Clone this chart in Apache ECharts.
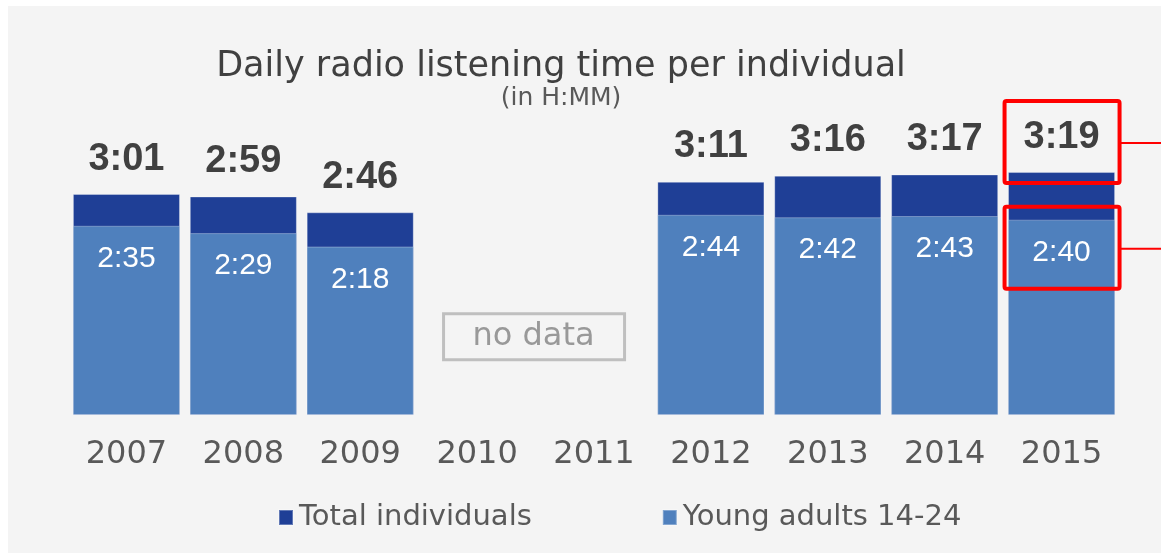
<!DOCTYPE html>
<html><head><meta charset="utf-8">
<script src="https://cdn.jsdelivr.net/npm/echarts@6/dist/echarts.min.js"></script>
<style>html,body{margin:0;padding:0;background:#fff}#c{width:1161px;height:553px}</style>
</head><body><div id="c"></div>
<script>
const years = ['2007','2008','2009','2010','2011','2012','2013','2014','2015'];
// minutes
const totalIndividuals = [181, 179, 166, null, null, 191, 196, 197, 199];
const youngAdults = [155, 149, 138, null, null, 164, 162, 163, 160];
const seriesNames = ['Total individuals', 'Young adults 14-24'];
const noDataYears = ['2010', '2011'];
const highlightYear = '2015';

function hmm(v) {
  const m = typeof v === 'object' ? v.value : v;
  if (m == null) return '';
  const mm = m % 60;
  return Math.floor(m / 60) + ':' + (mm < 10 ? '0' : '') + mm;
}

const chart = echarts.init(document.getElementById('c'));
const option = {
  backgroundColor: '#ffffff',
  animation: false,
  title: {
    text: 'Daily radio listening time per individual',
    subtext: '(in H:MM)',
    left: 556, textAlign: 'center', top: 44, itemGap: 2,
    textStyle: { fontFamily: 'DejaVu Sans', fontSize: 35, fontWeight: 'normal', color: '#404040' },
    subtextStyle: { fontFamily: 'DejaVu Sans', fontSize: 25, color: '#595959' }
  },
  legend: {
    left: 273, top: 498, itemWidth: 14, itemHeight: 15, itemGap: 130,
    icon: 'rect',
    textStyle: { fontFamily: 'DejaVu Sans', fontSize: 29, color: '#595959', padding: [0,0,0,1] },
    data: seriesNames
  },
  grid: { left: 68, right: 41, top: 122, bottom: 138 },
  xAxis: {
    type: 'category', data: years,
    axisLine: { show: false }, axisTick: { show: false },
    axisLabel: { fontFamily: 'DejaVu Sans', fontSize: 32, color: '#595959', margin: 24 }
  },
  yAxis: { type: 'value', min: 0, max: 240, show: false, splitLine: { show: false } },
  series: [
    {
      name: seriesNames[0], type: 'bar', data: totalIndividuals,
      barCategoryGap: '8.4%', barGap: '-100%',
      itemStyle: { color: '#1F3F96', borderColor: 'rgba(255,255,255,0.3)', borderWidth: 1 },
      label: { show: true, position: 'top', distance: 16, formatter: p => hmm(p.value),
        fontFamily: 'Liberation Sans', fontWeight: 'bold', fontSize: 38, color: '#404040' }
    },
    {
      name: seriesNames[1], type: 'bar', data: youngAdults,
      barCategoryGap: '8.4%', barGap: '-100%',
      itemStyle: { color: '#4F80BD', borderColor: 'rgba(255,255,255,0.3)', borderWidth: 1 },
      label: { show: true, position: 'insideTop', distance: 18, formatter: p => hmm(p.value),
        fontFamily: 'Liberation Sans', fontSize: 30, color: '#ffffff' }
    }
  ]
};
chart.setOption(option);

function px(cat, val) { return chart.convertToPixel({ gridIndex: 0 }, [cat, val]); }
const i15 = years.indexOf(highlightYear);
const p0 = px(noDataYears[0], 0), p1 = px(noDataYears[1], 0);
const ndY = px(noDataYears[0], 65)[1];
const cx = (p0[0] + p1[0]) / 2;
const hx = px(highlightYear, 0)[0];
const tTop = px(highlightYear, totalIndividuals[i15])[1];
const yTop = px(highlightYear, youngAdults[i15])[1];
const W = chart.getWidth();

chart.setOption({
  graphic: [
    { type: 'rect', z: -10, silent: true, shape: { x: 8, y: 6, width: W - 8, height: 547 }, style: { fill: '#f4f4f4' } },
    { type: 'rect', z: 10, shape: { x: cx - 92, y: ndY - 22, width: 181, height: 46 },
      style: { fill: 'none', stroke: '#bfbfbf', lineWidth: 3 } },
    { type: 'text', z: 10, x: cx - 2, y: ndY + 1, style: { text: 'no data', fill: '#999999', fontFamily: 'DejaVu Sans', fontSize: 32, align: 'center', verticalAlign: 'middle' } },
    { type: 'rect', z: 20, shape: { x: hx - 57, y: tTop - 71, width: 115, height: 82, r: 2 },
      style: { fill: 'none', stroke: '#ff0000', lineWidth: 4 } },
    { type: 'line', z: 20, shape: { x1: hx + 58, y1: tTop - 29, x2: W, y2: tTop - 29 }, style: { stroke: '#ff0000', lineWidth: 2 } },
    { type: 'rect', z: 20, shape: { x: hx - 57, y: yTop - 13, width: 115, height: 82, r: 2 },
      style: { fill: 'none', stroke: '#ff0000', lineWidth: 4 } },
    { type: 'line', z: 20, shape: { x1: hx + 58, y1: yTop + 29, x2: W, y2: yTop + 29 }, style: { stroke: '#ff0000', lineWidth: 2 } }
  ]
});
</script></body></html>
